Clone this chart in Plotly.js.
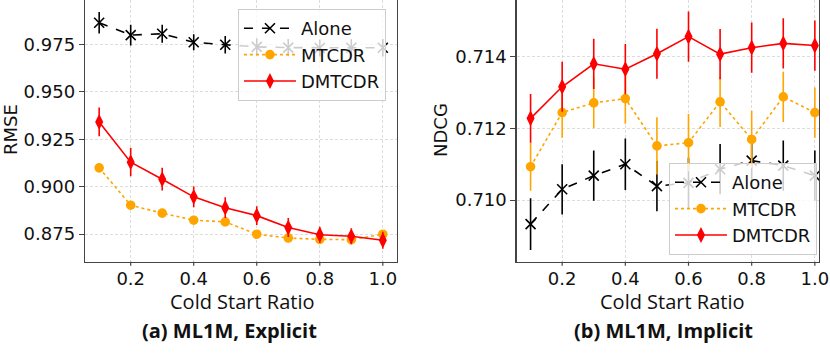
<!DOCTYPE html>
<html>
<head>
<meta charset="utf-8">
<script src="https://cdn.plot.ly/plotly-3.0.1.min.js"></script>
<style>
  html, body { margin: 0; padding: 0; background: #fff; }
  #chart { width: 830px; height: 354px; }
</style>
</head>
<body>
<div id="chart"></div>
<script>
// Cold start ratios (x axis of both panels)
const ratio = [0.1, 0.2, 0.3, 0.4, 0.5, 0.6, 0.7, 0.8, 0.9, 1.0];
const xTicks = [0.2, 0.4, 0.6, 0.8, 1.0];

// (a) ML1M, Explicit - RMSE
const aloneRmse = [0.9864, 0.9799, 0.9806, 0.9761, 0.9748, 0.9737, 0.9733, 0.9731, 0.9732, 0.9732];
const aloneRmseErr = [0.0057, 0.0055, 0.0047, 0.0042, 0.0046, 0.0045, 0.0045, 0.0045, 0.0045, 0.0046];
const mtcdrRmse = [0.9099, 0.8902, 0.8860, 0.8823, 0.8814, 0.8749, 0.8729, 0.8722, 0.8720, 0.8749];
const mtcdrRmseErr = [0.0018, 0.002, 0.0015, 0.0013, 0.0013, 0.0013, 0.0013, 0.0015, 0.0015, 0.0013];
const dmtcdrRmse = [0.9341, 0.9129, 0.9039, 0.8946, 0.8889, 0.8847, 0.8784, 0.8746, 0.8738, 0.8717];
const dmtcdrRmseErr = [0.0076, 0.0075, 0.006, 0.0055, 0.0055, 0.005, 0.005, 0.0042, 0.0042, 0.0045];

// (b) ML1M, Implicit - NDCG
const aloneNdcg = [0.70933, 0.71030, 0.71068, 0.71100, 0.71039, 0.71048, 0.71086, 0.71110, 0.71096, 0.71068];
const aloneNdcgErr = [0.00072, 0.0007, 0.0007, 0.00072, 0.0007, 0.0007, 0.0007, 0.0007, 0.0007, 0.0007];
const mtcdrNdcg = [0.71093, 0.71244, 0.71271, 0.71283, 0.71151, 0.71160, 0.71274, 0.71169, 0.71288, 0.71244];
const mtcdrNdcgErr = [0.00067, 0.0007, 0.0007, 0.0007, 0.0008, 0.0008, 0.0007, 0.0008, 0.0007, 0.0007];
const dmtcdrNdcg = [0.71228, 0.71316, 0.71380, 0.71365, 0.71408, 0.71456, 0.71407, 0.71425, 0.71437, 0.71431];
const dmtcdrNdcgErr = [0.00068, 0.0007, 0.0007, 0.0007, 0.0007, 0.0007, 0.0007, 0.0007, 0.0007, 0.0007];

// Fixed styling per method
const styles = {
  'Alone': { color: '#000000', dash: 'dash', symbol: 'x-thin-open', size: 10 },
  'MTCDR': { color: '#FFA500', dash: 'dot', symbol: 'circle', size: 8 },
  'DMTCDR': { color: '#FF0000', dash: 'solid', symbol: 'diamond-tall', size: 9 }
};

const makeTrace = (name, y, err, xaxis, yaxis, legend) => {
  const s = styles[name];
  return {
    x: ratio, y: y, name: name, type: 'scatter', mode: 'lines+markers',
    xaxis: xaxis, yaxis: yaxis, legend: legend,
    line: { color: s.color, dash: s.dash, width: 1.6 },
    marker: { color: s.color, symbol: s.symbol, size: s.size, line: { color: s.color, width: 1.6 } },
    error_y: { type: 'data', array: err, visible: true, color: s.color, thickness: 1.6, width: 0 }
  };
};

const data = [
  makeTrace('Alone', aloneRmse, aloneRmseErr, 'x', 'y', 'legend'),
  makeTrace('MTCDR', mtcdrRmse, mtcdrRmseErr, 'x', 'y', 'legend'),
  makeTrace('DMTCDR', dmtcdrRmse, dmtcdrRmseErr, 'x', 'y', 'legend'),
  makeTrace('Alone', aloneNdcg, aloneNdcgErr, 'x2', 'y2', 'legend2'),
  makeTrace('MTCDR', mtcdrNdcg, mtcdrNdcgErr, 'x2', 'y2', 'legend2'),
  makeTrace('DMTCDR', dmtcdrNdcg, dmtcdrNdcgErr, 'x2', 'y2', 'legend2')
];

const tickFont = { family: 'DejaVu Sans', size: 18, color: '#111' };
const frame = '#444';
const plotBottom = 0.2607;

// x ticks hidden so labels sit close to the frame; short tick marks added as shapes below
const xBase = {
  tickvals: xTicks, tickformat: '.1f',
  showgrid: true, gridcolor: '#d4d4d4', griddash: '3px,2px', gridwidth: 0.8,
  zeroline: false, showline: true, linecolor: frame, linewidth: 1.3, mirror: false,
  ticks: '', tickfont: tickFont
};
const yBase = {
  showgrid: true, gridcolor: '#d4d4d4', griddash: '3px,2px', gridwidth: 0.8,
  zeroline: false, showline: true, linecolor: frame, linewidth: 1.3, mirror: true,
  ticks: 'outside', ticklen: 5, tickcolor: frame, tickfont: tickFont, tickformat: '.3f'
};

const tickShapes = ['x', 'x2'].flatMap(ax => xTicks.map(t => ({
  type: 'line', xref: ax, yref: 'paper', x0: t, x1: t, y0: plotBottom, y1: plotBottom - 4 / 354,
  line: { color: frame, width: 1.2 }
})));

const legendBase = {
  bgcolor: 'rgba(255,255,255,0.8)', bordercolor: '#cccccc', borderwidth: 1,
  font: { family: 'DejaVu Sans', size: 18, color: '#111' },
  xanchor: 'left', yanchor: 'top', itemwidth: 52
};

const axisTitleFont = { family: 'Open Sans', size: 20, color: '#111' };
const captionFont = { family: 'Open Sans', size: 20, color: '#111', weight: 'bold' };

const layout = {
  width: 830, height: 354,
  margin: { l: 0, r: 0, t: 0, b: 0 },
  paper_bgcolor: '#fff', plot_bgcolor: '#fff',
  showlegend: true,
  xaxis: { ...xBase, domain: [0.1024, 0.4783], range: [0.055, 1.045], anchor: 'y' },
  yaxis: { ...yBase, domain: [plotBottom, 1], range: [0.8604, 0.9984], tickvals: [0.875, 0.900, 0.925, 0.950, 0.975], anchor: 'x' },
  xaxis2: { ...xBase, domain: [0.6225, 0.9867], range: [0.056, 1.013], anchor: 'y2' },
  yaxis2: { ...yBase, domain: [plotBottom, 1], range: [0.70828, 0.71558], tickvals: [0.710, 0.712, 0.714], anchor: 'x2' },
  legend: { ...legendBase, x: 0.2867, y: 0.9746 },
  legend2: { ...legendBase, x: 0.806, y: 0.5395 },
  shapes: tickShapes,
  annotations: [
    { text: 'RMSE', xref: 'paper', yref: 'paper', x: 10 / 830, y: 1 - 130 / 354, textangle: -90, showarrow: false,
      font: { family: 'DejaVu Sans', size: 18, color: '#111' }, xanchor: 'center', yanchor: 'middle' },
    { text: 'NDCG', xref: 'paper', yref: 'paper', x: 440 / 830, y: 1 - 130 / 354, textangle: -90, showarrow: false,
      font: { family: 'DejaVu Sans', size: 18, color: '#111' }, xanchor: 'center', yanchor: 'middle' },
    { text: 'Cold Start Ratio', xref: 'paper', yref: 'paper', x: 241.5 / 830, y: 1 - 301 / 354, showarrow: false,
      font: axisTitleFont, xanchor: 'center', yanchor: 'middle' },
    { text: 'Cold Start Ratio', xref: 'paper', yref: 'paper', x: 672 / 830, y: 1 - 301 / 354, showarrow: false,
      font: axisTitleFont, xanchor: 'center', yanchor: 'middle' },
    { text: '(a) ML1M, Explicit', xref: 'paper', yref: 'paper', x: 229.5 / 830, y: 1 - 330 / 354, showarrow: false,
      font: captionFont, xanchor: 'center', yanchor: 'middle' },
    { text: '(b) ML1M, Implicit', xref: 'paper', yref: 'paper', x: 663 / 830, y: 1 - 330 / 354, showarrow: false,
      font: captionFont, xanchor: 'center', yanchor: 'middle' }
  ]
};

Plotly.newPlot('chart', data, layout, { displayModeBar: false, staticPlot: true });
</script>
</body>
</html>
